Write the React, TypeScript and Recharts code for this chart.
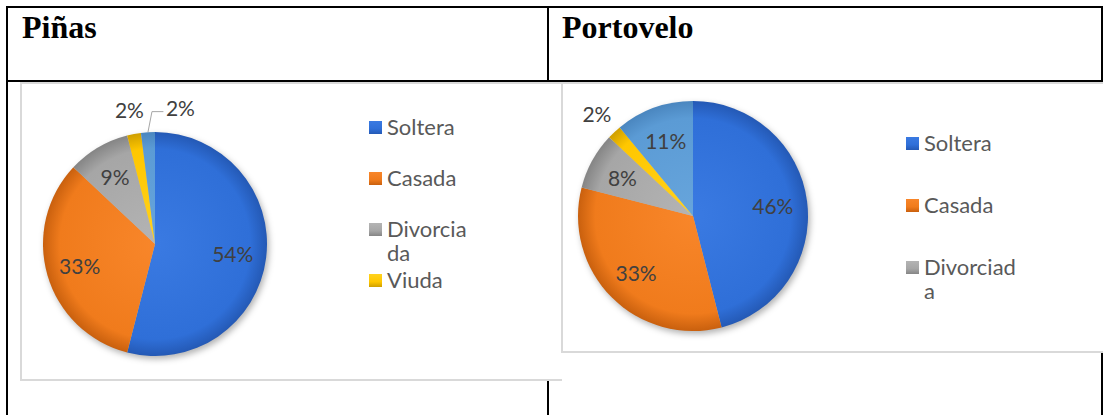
import { Cell, Legend, Pie, PieChart } from 'recharts';

const categories = ['Soltera', 'Casada', 'Divorciada', 'Viuda', 'Unión libre'];
const pinasValues = [54, 33, 9, 2, 2];
const portoveloValues = [46, 33, 8, 2, 11];

const baseColors = ['#2f6fd8', '#f07b1c', '#a6a6a6', '#ffc700', '#5b9bd5'];
const lightColors = ['#3a7ae2', '#f8862a', '#b4b4b4', '#ffd21f', '#67a5dc'];
const edgeColors = ['#2459b5', '#c9600e', '#858585', '#cf9f00', '#4a86bf'];

const RAD = Math.PI / 180;
const LABEL_FONT = 'Lato, "Open Sans", sans-serif';

type LegendOpts = {
  left: number;
  top: number;
  pitch: number;
  textWidth: number;
  count: number;
};

type CardProps = {
  id: string;
  values: number[];
  left: number;
  top: number;
  width: number;
  height: number;
  cx: number;
  cy: number;
  radius: number;
  openRight?: boolean;
  legend: LegendOpts;
};

function makeLabel(values: number[]) {
  const total = values.reduce((a, b) => a + b, 0);
  return (props: any) => {
    const { cx, cy, midAngle, outerRadius, index } = props;
    const share = values[index] / total;
    const small = share < 0.05;
    const k = small ? 1.22 : 0.7;
    let x = cx + outerRadius * k * Math.cos(-midAngle * RAD);
    const y = cy + outerRadius * k * Math.sin(-midAngle * RAD);
    const prevSmall = index > 0 && values[index - 1] / total < 0.05;
    let leader = null;
    if (small && prevSmall) {
      // two tiny slices side by side: push this label right, with a leader line
      x += 34;
      const ex = cx + outerRadius * Math.cos(-midAngle * RAD);
      const ey = cy + outerRadius * Math.sin(-midAngle * RAD);
      leader = (
        <polyline
          points={`${ex},${ey} ${ex + 4},${y + 4} ${x - 17},${y + 4}`}
          fill="none"
          stroke="#a6a6a6"
          strokeWidth={1}
        />
      );
    }
    return (
      <g>
        {leader}
        <text
          x={x}
          y={y}
          textAnchor="middle"
          dominantBaseline="central"
          fill="#404040"
          fontSize={21}
          fontFamily={LABEL_FONT}
        >
          {`${Math.round(share * 100)}%`}
        </text>
      </g>
    );
  };
}

function PieCard({ id, values, left, top, width, height, cx, cy, radius, openRight, legend }: CardProps) {
  const data = categories.map((name, i) => ({ name, value: values[i] }));

  return (
    <div
      style={{
        position: 'absolute',
        left,
        top,
        width,
        height,
        boxSizing: 'border-box',
        border: '2px solid #d9d9d9',
        borderRight: openRight ? 'none' : '2px solid #d9d9d9',
        background: '#fff',
        overflow: 'hidden',
      }}
    >
      <div style={{ position: 'absolute', left: -2, top: -2 }}>
        <PieChart width={width} height={height} margin={{ top: 0, right: 0, bottom: 0, left: 0 }}>
          <defs>
            {baseColors.map((c, i) => (
              <radialGradient
                key={c}
                id={`${id}-g${i}`}
                gradientUnits="userSpaceOnUse"
                cx={cx}
                cy={cy}
                r={radius}
              >
                <stop offset="0%" stopColor={lightColors[i]} />
                <stop offset="85%" stopColor={c} />
                <stop offset="100%" stopColor={edgeColors[i]} />
              </radialGradient>
            ))}
          </defs>
          <Pie
            data={data}
            dataKey="value"
            nameKey="name"
            cx={cx}
            cy={cy}
            outerRadius={radius}
            startAngle={90}
            endAngle={-270}
            stroke="none"
            labelLine={false}
            label={makeLabel(values)}
            isAnimationActive={false}
          >
            {data.map((d, i) => (
              <Cell key={d.name} fill={`url(#${id}-g${i})`} />
            ))}
          </Pie>
          <Legend
            layout="vertical"
            align="right"
            verticalAlign="middle"
            wrapperStyle={{ left: legend.left, top: legend.top, right: 'auto', width: 'auto' }}
            content={() => (
              <div style={{ fontFamily: LABEL_FONT, fontSize: 22, color: '#595959', lineHeight: '24px' }}>
                {categories.slice(0, legend.count).map((name, i) => (
                  <div key={name} style={{ position: 'relative', height: legend.pitch, paddingLeft: 18 }}>
                    <span
                      style={{
                        position: 'absolute',
                        left: 0,
                        top: 5.5,
                        width: 13,
                        height: 13,
                        background: `linear-gradient(to bottom, ${lightColors[i]}, ${baseColors[i]} 60%, ${edgeColors[i]})`,
                      }}
                    />
                    <div style={{ width: legend.textWidth, wordBreak: 'break-all' }}>{name}</div>
                  </div>
                ))}
              </div>
            )}
          />
        </PieChart>
      </div>
    </div>
  );
}

const rule = (left: number, top: number, width: number, height: number) => ({
  position: 'absolute' as const,
  left,
  top,
  width,
  height,
  background: '#000',
});

const headStyle = {
  position: 'absolute' as const,
  top: 11,
  fontFamily: '"Liberation Serif", "Times New Roman", serif',
  fontWeight: 700,
  fontSize: 32,
  lineHeight: '32px',
  color: '#000',
};

export default function App() {
  return (
    <div
      style={{
        position: 'absolute',
        left: 0,
        top: 0,
        width: 1103,
        height: 415,
        overflow: 'hidden',
        background: '#fff',
      }}
    >
      <style>{`.recharts-pie > .recharts-layer:not(.recharts-pie-labels) { filter: drop-shadow(2px 3px 3px rgba(0,0,0,0.3)); }`}</style>
      <div style={rule(6, 6, 1097, 2)} />
      <div style={rule(6, 80, 1097, 2)} />
      <div style={rule(6, 6, 2, 409)} />
      <div style={rule(547, 6, 2, 409)} />
      <div style={rule(1101, 6, 2, 409)} />
      <div style={{ ...headStyle, left: 22 }}>Piñas</div>
      <div style={{ ...headStyle, left: 562 }}>Portovelo</div>

      <PieCard
        id="pinas"
        values={pinasValues}
        left={20}
        top={82}
        width={542}
        height={299}
        cx={135}
        cy={162}
        radius={112}
        openRight
        legend={{ left: 349, top: 33, pitch: 51, textWidth: 86, count: 4 }}
      />
      <PieCard
        id="portovelo"
        values={portoveloValues}
        left={561}
        top={82}
        width={560}
        height={271}
        cx={132}
        cy={134}
        radius={115}
        legend={{ left: 345, top: 49, pitch: 62, textWidth: 98, count: 3 }}
      />
    </div>
  );
}
